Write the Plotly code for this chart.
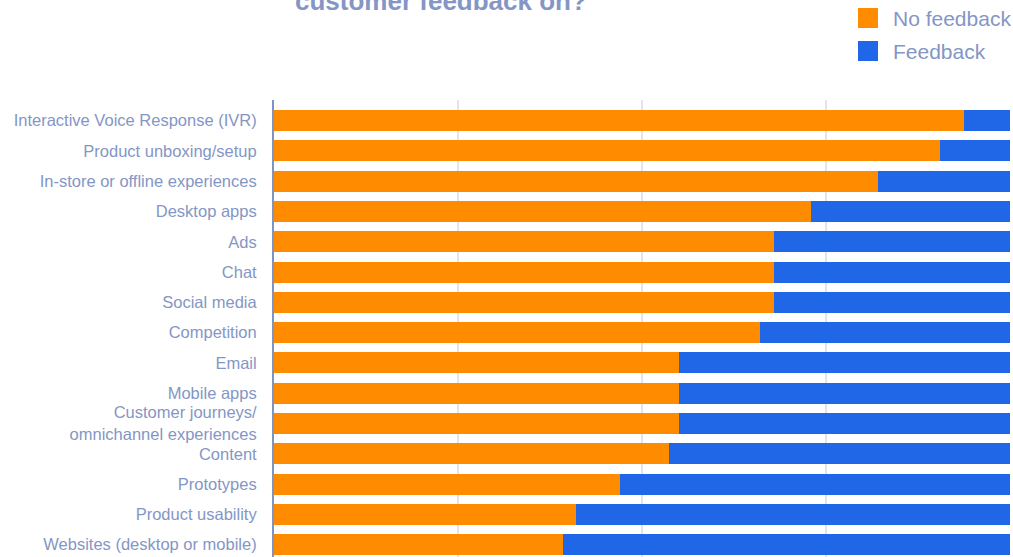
import plotly.graph_objects as go

# Touchpoints, top to bottom
categories = [
    "Interactive Voice Response (IVR)",
    "Product unboxing/setup",
    "In-store or offline experiences",
    "Desktop apps",
    "Ads",
    "Chat",
    "Social media",
    "Competition",
    "Email",
    "Mobile apps",
    "Customer journeys/<br>omnichannel experiences",
    "Content",
    "Prototypes",
    "Product usability",
    "Websites (desktop or mobile)",
]

# Share of respondents (%)
no_feedback = [93.7, 90.5, 82, 73, 68, 68, 68, 66, 55, 55, 55, 53.7, 47, 41, 39.3]
feedback = [round(100 - v, 1) for v in no_feedback]

series_names = ["No feedback", "Feedback"]

ORANGE = "#FF8C00"
BLUE = "#1F67E6"
TEXT = "#8496C5"
FONT = "Liberation Sans, Arial, sans-serif"

fig = go.Figure()
for name, vals, col in [(series_names[0], no_feedback, ORANGE),
                        (series_names[1], feedback, BLUE)]:
    fig.add_trace(go.Bar(
        y=categories, x=vals, orientation="h", name=name,
        marker=dict(color=col, line=dict(width=0)), showlegend=False,
    ))

# Legend: square swatches with labels in the top-right corner
for i, (name, col) in enumerate(zip(series_names, [ORANGE, BLUE])):
    top = 8 + 33 * i
    fig.add_shape(
        type="rect", xref="paper", yref="paper",
        x0=(858 - 274) / 736, x1=(878 - 274) / 736,
        y0=1 + (100 - top) / 457, y1=1 + (100 - top - 20) / 457,
        fillcolor=col, line=dict(width=0), layer="above",
    )
    fig.add_annotation(
        text=name, xref="paper", yref="paper",
        x=(891 - 274) / 736, y=1 + (100 - top - 10) / 457,
        xanchor="left", yanchor="middle", showarrow=False,
        font=dict(family=FONT, size=21, color=TEXT),
    )

fig.add_annotation(
    text="customer feedback on?", xref="paper", yref="paper",
    x=(441 - 274) / 736, y=1, yshift=82, xanchor="center", yanchor="bottom",
    showarrow=False,
    font=dict(family=FONT, size=26, color=TEXT, weight="bold"),
)

fig.update_layout(
    width=1013, height=557,
    margin=dict(l=274, r=3, t=100, b=0, autoexpand=False),
    barmode="stack", bargap=0.307,
    plot_bgcolor="white", paper_bgcolor="white",
    font=dict(family=FONT, color=TEXT),
    showlegend=False,
    xaxis=dict(
        range=[0, 100], showticklabels=False, showgrid=True,
        gridcolor="#DFE4EF", gridwidth=2, tickvals=[25, 50, 75, 100],
        zeroline=False, showline=False, fixedrange=True,
    ),
    yaxis=dict(
        range=[14.41, -0.68], showline=True, linecolor="#8093C1", linewidth=2,
        tickfont=dict(size=16.5, color=TEXT), ticks="", ticklabelstandoff=12,
        showgrid=False, fixedrange=True,
    ),
)

fig.write_html("out.html")
